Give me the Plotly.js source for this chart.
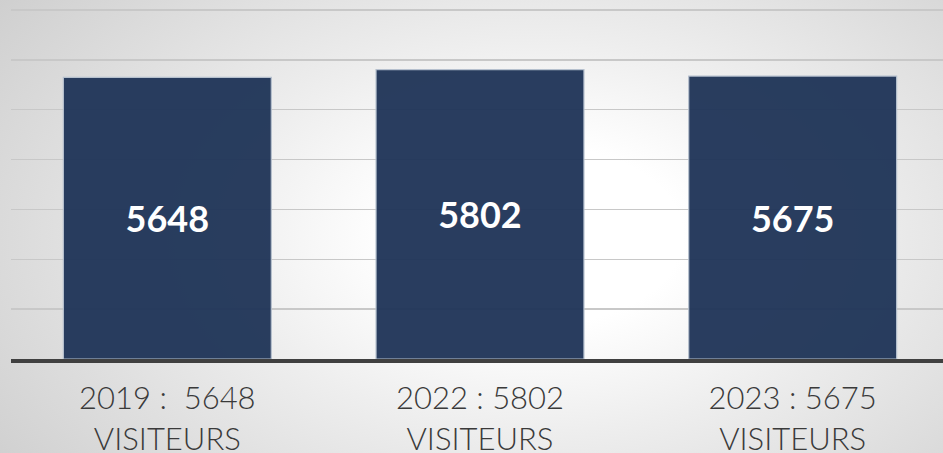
<!DOCTYPE html>
<html>
<head>
<meta charset="utf-8">
<script src="https://cdn.plot.ly/plotly-3.0.1.min.js"></script>
<style>
  html, body { margin: 0; padding: 0; width: 943px; height: 453px; overflow: hidden; }
  body { background: radial-gradient(ellipse 70% 90% at 57% 52%, #ffffff 22%, #eeeeee 48%, #cfcfcf 100%); }
  #chart { width: 949px; height: 453px; }
</style>
</head>
<body>
<div id="chart"></div>
<script>
const years = ['2019', '2022', '2023'];
const visitors = [5648, 5802, 5675];
const separators = [' :&nbsp;&nbsp;', ' : ', ' : '];
const unitLabel = 'VISITEURS';

const tickText = years.map((y, i) => y + separators[i] + visitors[i] + '<br>' + unitLabel);

const trace = {
  type: 'bar',
  x: years,
  y: visitors,
  text: visitors.map(String),
  textposition: 'inside',
  insidetextanchor: 'middle',
  constraintext: 'none',
  textangle: 0,
  textfont: { family: 'Lato, "DejaVu Sans", sans-serif', size: 36, color: '#ffffff', weight: 'bold' },
  marker: {
    color: '#213659',
    opacity: 0.96,
    line: { color: '#b4bfcd', width: 1.2 }
  },
  hoverinfo: 'none'
};

const layout = {
  width: 949,
  height: 453,
  margin: { l: 11, r: 0, t: 7, b: 94 },
  paper_bgcolor: 'rgba(0,0,0,0)',
  plot_bgcolor: 'rgba(0,0,0,0)',
  bargap: 0.335,
  showlegend: false,
  xaxis: {
    type: 'category',
    tickmode: 'array',
    tickvals: years,
    ticktext: tickText,
    showline: true,
    linecolor: '#404040',
    linewidth: 4,
    ticks: '',
    showgrid: false,
    tickfont: { family: 'Lato, "Open Sans", sans-serif', size: 31, color: '#3a3a3a', weight: 300 },
    ticklabelstandoff: 9
  },
  yaxis: {
    range: [0, 7060],
    tickmode: 'array',
    tickvals: [1000, 2000, 3000, 4000, 5000, 6000, 7000],
    showgrid: true,
    gridcolor: '#c8c8c8',
    gridwidth: 1.5,
    zeroline: false,
    showticklabels: false,
    ticks: ''
  }
};

Plotly.newPlot('chart', [trace], layout, { staticPlot: true, displayModeBar: false });
</script>
</body>
</html>
